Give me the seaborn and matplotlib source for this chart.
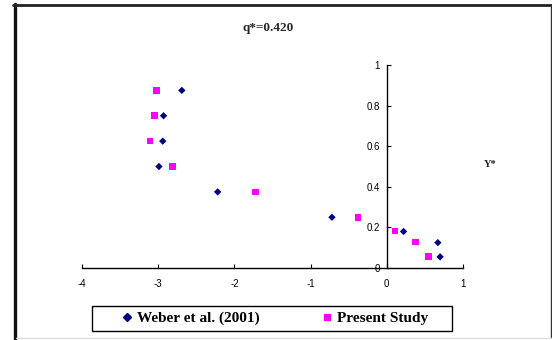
import numpy as np
import pandas as pd
import matplotlib
matplotlib.use("Agg")
import matplotlib.pyplot as plt
from matplotlib.lines import Line2D
from matplotlib.patches import Rectangle
import seaborn as sns

# data
weber_x = [-2.69, -2.93, -2.94, -2.99, -2.22, -0.72, 0.22, 0.67, 0.70]
weber_y = [0.875, 0.75, 0.625, 0.5, 0.375, 0.25, 0.18, 0.125, 0.055]
present_x = [-3.02, -3.05, -3.11, -2.81, -1.72, -0.38, 0.11, 0.38, 0.55]
present_y = [0.875, 0.75, 0.625, 0.5, 0.375, 0.25, 0.183, 0.127, 0.057]
series_names = ["Weber et al. (2001)", "Present Study"]
x_ticks = [-4, -3, -2, -1, 0, 1]
y_ticks = [0, 0.2, 0.4, 0.6, 0.8, 1]
y_tick_labels = ["0", "0.2", "0.4", "0.6", "0.8", "1"]

df = pd.DataFrame({
    "x": weber_x + present_x,
    "y": weber_y + present_y,
    "series": [series_names[0]] * len(weber_x) + [series_names[1]] * len(present_x),
})

sns.set_style("white")
plt.rcParams["font.family"] = ["Liberation Sans", "DejaVu Sans"]

fig = plt.figure(figsize=(5.52, 3.4), dpi=100)
ax = fig.add_axes([82 / 552, 72 / 340, 381 / 552, 203 / 340])

sns.scatterplot(data=df, x="x", y="y", hue="series", style="series",
                palette={series_names[0]: "#000080", series_names[1]: "#FF00FF"},
                markers={series_names[0]: "D", series_names[1]: "s"},
                size="series", sizes={series_names[0]: 14, series_names[1]: 22},
                linewidth=0, ax=ax, legend=False, clip_on=False)

ax.set_xlim(-4, 1)
ax.set_ylim(0, 1)
ax.set_xticks(x_ticks)
ax.set_xticklabels([str(t) for t in x_ticks])
ax.set_yticks(y_ticks)
ax.set_yticklabels(y_tick_labels)
ax.set_xlabel("")
ax.set_ylabel("")

# spines crossing at the origin, like the spreadsheet chart
ax.spines["left"].set_position(("data", 0))
ax.spines["bottom"].set_position(("data", 0))
ax.spines["right"].set_visible(False)
ax.spines["top"].set_visible(False)
for s in ["left", "bottom"]:
    ax.spines[s].set_color("black")
    ax.spines[s].set_linewidth(1.0)
ax.tick_params(axis="both", direction="in", length=3, width=0.8, labelsize=7,
               colors="black", bottom=True, left=True)
ax.tick_params(axis="x", pad=8)
ax.tick_params(axis="y", pad=5)

fig.text(268 / 552, 1 - 28 / 340, "q*=0.420", ha="center", va="center",
         fontsize=9.5, fontweight="bold", family="Liberation Serif")
fig.text(490 / 552, 1 - 164 / 340, "Y*", ha="center", va="center",
         fontsize=7.5, fontweight="bold", family="Liberation Serif")

handles = [
    Line2D([], [], marker="D", color="#000080", linestyle="", markersize=3.6),
    Line2D([], [], marker="s", color="#FF00FF", linestyle="", markersize=4.6),
]
leg = fig.legend(handles, series_names, loc="center", ncol=2,
                 bbox_to_anchor=(274 / 552, 1 - 318.5 / 340),
                 frameon=False, columnspacing=4.0,
                 prop={"family": "Liberation Serif", "weight": "bold", "size": 11},
                 handletextpad=0.2, handlelength=0.9, borderpad=0, borderaxespad=0)
for t in leg.get_texts():
    t.set_color("black")
fig.add_artist(Rectangle((92 / 552, 9 / 340), 360 / 552, 25 / 340, fill=False,
                         edgecolor="black", linewidth=1.0, transform=fig.transFigure))

# outer frame of the chart area
fig.add_artist(Line2D([14.5 / 552, 14.5 / 552], [0, 1 - 3.5 / 340], color="#111111",
                      linewidth=2.4, transform=fig.transFigure))
fig.add_artist(Line2D([13 / 552, 552 / 552], [1 - 4.5 / 340, 1 - 4.5 / 340], color="#222222",
                      linewidth=2.0, transform=fig.transFigure))
fig.add_artist(Line2D([551 / 552, 551 / 552], [2 / 340, 1 - 4 / 340], color="#333333",
                      linewidth=1.0, transform=fig.transFigure))
fig.add_artist(Line2D([16 / 552, 1], [2 / 340, 2 / 340], color="#dddddd",
                      linewidth=1.0, transform=fig.transFigure))

fig.savefig("out.png", dpi=100)
